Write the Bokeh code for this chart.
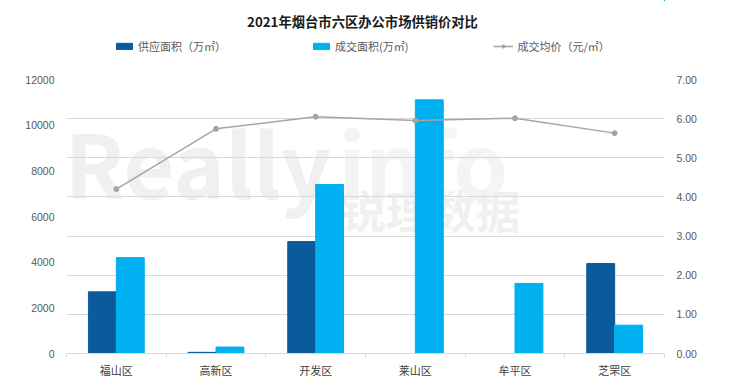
from bokeh.plotting import figure
from bokeh.layouts import column
from bokeh.models import (Range1d, LinearAxis, FixedTicker, NumeralTickFormatter,
                          ColumnDataSource, Legend, LegendItem, Grid, Label)
from bokeh.transform import dodge
from bokeh.embed import file_html
from bokeh.resources import INLINE

# ---- data ----
districts = ["福山区", "高新区", "开发区", "莱山区", "牟平区", "芝罘区"]
supply_area = [2700, 50, 4900, 0, 0, 3940]           # 供应面积（万㎡）
deal_area = [4200, 280, 7400, 11110, 3070, 1240]     # 成交面积(万㎡)
avg_price = [4.20, 5.74, 6.05, 5.95, 6.01, 5.63]     # 成交均价（元/㎡）
left_ticks = [0, 2000, 4000, 6000, 8000, 10000, 12000]
right_ticks = [0, 1, 2, 3, 4, 5, 6, 7]
series_names = ["供应面积（万㎡）", "成交面积(万㎡)", "成交均价（元/㎡）"]

title_text = "2021年烟台市六区办公市场供销价对比"
CJK = "Noto Sans CJK SC"
DARK = "#0A5A9C"
LIGHT = "#00B0F0"
GRAY = "#A5A5A5"

n = len(districts)
centers = [i + 0.5 for i in range(n)]
bounds = [i for i in range(n + 1)]

src = ColumnDataSource(dict(x=centers, supply=supply_area, deal=deal_area, price=avg_price))

FRAME_L = 66  # frame left edge in page px (header frame is aligned to it)

# ---------------- header (title + legend) ----------------
HEAD_H = 69
# header ranges are placed away from the data so its series glyphs only show in the legend
header = figure(width=732, height=HEAD_H, output_backend="svg", toolbar_location=None,
                x_range=Range1d(-20, -19), y_range=Range1d(-20, -19),
                x_axis_location=None, y_axis_location=None, min_border=0)
header.outline_line_color = None
header.grid.visible = False
header.background_fill_color = "white"
header.border_fill_color = "white"

header.add_layout(Label(x=362 - FRAME_L, y=HEAD_H - 21, x_units="screen", y_units="screen",
                        text=title_text, text_font=CJK, text_font_style="bold",
                        text_font_size="13.3px", text_color="#1a1a1a",
                        text_align="center", text_baseline="middle"))

h1 = header.vbar(x="x", top="supply", width=0.28, source=src, fill_color=DARK, line_color=DARK)
h2 = header.vbar(x="x", top="deal", width=0.28, source=src, fill_color=LIGHT, line_color=LIGHT)
h3 = header.line(x="x", y="price", source=src, line_color=GRAY, line_width=1.5)
h4 = header.scatter(x="x", y="price", source=src, size=5, fill_color=GRAY, line_color=GRAY)

lg = Legend(items=[LegendItem(label=series_names[0], renderers=[h1]),
                   LegendItem(label=series_names[1], renderers=[h2]),
                   LegendItem(label=series_names[2], renderers=[h3, h4])],
            location=(114 - FRAME_L, HEAD_H - 56), orientation="horizontal", spacing=85,
            padding=0, margin=0, border_line_color=None,
            background_fill_alpha=0, glyph_width=20, glyph_height=8, label_height=20,
            label_standoff=4, label_text_font=CJK, label_text_font_size="11px",
            label_text_color="#595959")
header.add_layout(lg, "center")

# ---------------- main chart ----------------
p = figure(width=732, height=381 - HEAD_H, output_backend="svg", toolbar_location=None,
           x_range=Range1d(0, n), y_range=Range1d(0, 12000),
           min_border_left=FRAME_L, min_border_right=68, min_border_top=79 - HEAD_H,
           min_border_bottom=28)
p.extra_y_ranges = {"r": Range1d(0, 7)}
p.outline_line_color = None
p.background_fill_color = "white"
p.border_fill_color = "white"
p.xgrid.visible = False
p.ygrid.visible = False

# watermark
wm = dict(x_units="screen", y_units="screen", text_font=CJK, text_font_style="bold", level="underlay")
p.add_layout(Label(x=-2, y=193, text="Really", text_font_size="88px", text_color="#f0f0f0",
                   text_baseline="alphabetic", **wm))
p.add_layout(Label(x=272, y=193, text="info", text_font_size="88px", text_color="#f4f4f4",
                   text_baseline="alphabetic", **wm))
p.add_layout(Label(x=274, y=144, text="锐理数据", text_font_size="45px", text_color="#f0f0f0",
                   text_baseline="middle", **wm))

# grid from right axis
p.add_layout(Grid(dimension=1, ticker=FixedTicker(ticks=right_ticks), y_range_name="r",
                  grid_line_color="#d9d9d9", grid_line_width=1))

# left axis
ya = p.yaxis[0]
ya.ticker = FixedTicker(ticks=left_ticks)
ya.axis_line_color = None
ya.major_tick_line_color = None
ya.minor_tick_line_color = None
ya.major_label_text_font = "Liberation Sans"
ya.major_label_text_font_size = "10.5px"
ya.major_label_text_color = "#595959"
ya.major_label_standoff = 6

# right axis
ra = LinearAxis(y_range_name="r", ticker=FixedTicker(ticks=right_ticks),
                formatter=NumeralTickFormatter(format="0.00"))
ra.axis_line_color = None
ra.major_tick_line_color = None
ra.minor_tick_line_color = None
ra.major_label_text_font = "Liberation Sans"
ra.major_label_text_font_size = "10.5px"
ra.major_label_text_color = "#595959"
ra.major_label_standoff = 6
p.add_layout(ra, "right")

# x axis
xa = p.xaxis[0]
xa.ticker = FixedTicker(ticks=centers, minor_ticks=bounds)
xa.major_label_overrides = {c: d for c, d in zip(centers, districts)}
xa.major_tick_line_color = None
xa.major_tick_out = 0
xa.major_tick_in = 0
xa.minor_tick_out = 4
xa.minor_tick_in = 0
xa.minor_tick_line_color = "#d9d9d9"
xa.axis_line_color = "#d9d9d9"
xa.major_label_text_font = CJK
xa.major_label_text_font_size = "11px"
xa.major_label_text_color = "#404040"
xa.major_label_standoff = 4

# bars
p.vbar(x=dodge("x", -0.14), top="supply", width=0.28, source=src,
       fill_color=DARK, line_color=DARK)
p.vbar(x=dodge("x", 0.14), top="deal", width=0.28, source=src,
       fill_color=LIGHT, line_color=LIGHT)
# line
p.line(x="x", y="price", source=src, y_range_name="r", line_color=GRAY, line_width=1.5)
p.scatter(x="x", y="price", source=src, y_range_name="r", size=5,
          fill_color=GRAY, line_color=GRAY)

layout = column(header, p, spacing=0)
open("out.html", "w").write(file_html(layout, INLINE))
